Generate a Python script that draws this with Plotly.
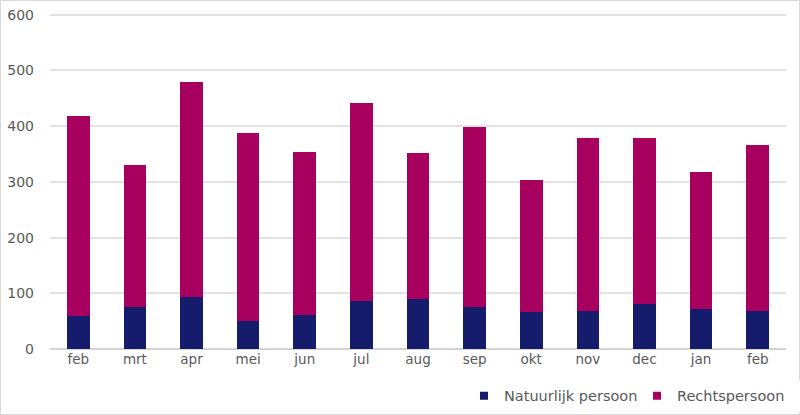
import plotly.graph_objects as go

maanden = ["feb", "mrt", "apr", "mei", "jun", "jul", "aug",
           "sep", "okt", "nov", "dec", "jan", "feb"]
natuurlijk = [60, 75, 94, 50, 61, 86, 90, 75, 67, 69, 81, 71, 69]
rechtspersoon = [359, 255, 385, 338, 293, 356, 262, 323, 237, 310, 298, 247, 297]

BLAUW = "#141c6b"
PAARS = "#a8005e"
TEKST = "#595959"

pos = list(range(len(maanden)))

fig = go.Figure()
fig.add_trace(go.Bar(x=pos, y=natuurlijk, name="Natuurlijk persoon", showlegend=False,
                     marker=dict(color=BLAUW, line=dict(width=0))))
fig.add_trace(go.Bar(x=pos, y=rechtspersoon, name="Rechtspersoon", showlegend=False,
                     marker=dict(color=PAARS, line=dict(width=0))))
# kleine vierkantjes in de legenda, zoals in Excel
for naam, kleur in [("Natuurlijk persoon", BLAUW), ("Rechtspersoon", PAARS)]:
    fig.add_trace(go.Scatter(x=[None], y=[None], mode="markers", name=naam,
                             marker=dict(symbol="square", size=8, color=kleur)))

# plotgebied: 50..786 px breed, 12..349 px hoog
fig.update_layout(
    barmode="stack",
    bargap=0.6,
    width=800, height=415,
    margin=dict(l=50, r=14, t=12, b=66, autoexpand=False),
    paper_bgcolor="white", plot_bgcolor="white",
    font=dict(family="DejaVu Sans, Verdana, sans-serif", color=TEKST, size=14),
    showlegend=True,
    legend=dict(orientation="h", x=1.0 + 24 / 736, xanchor="right", y=-0.139, yanchor="middle",
                font=dict(size=14.5, color=TEKST), traceorder="normal",
                itemwidth=30, entrywidth=128, entrywidthmode="pixels"),
)
fig.update_xaxes(tickvals=pos, ticktext=maanden, range=[-0.5, len(maanden) - 0.5],
                 showgrid=False, showline=False, ticks="", tickfont=dict(size=13.5))
fig.update_yaxes(range=[0, 605], tickvals=[0, 100, 200, 300, 400, 500, 600],
                 showgrid=True, gridcolor="#e3e3e3",
                 gridwidth=1.5, zeroline=True, zerolinecolor="#d4d4d4", zerolinewidth=1.5,
                 showline=False, ticks="", ticklabelstandoff=15, tickfont=dict(size=14))

# dunne rand om de hele afbeelding
fig.add_shape(type="rect", xref="paper", yref="paper",
              x0=(0.5 - 50) / 736, x1=(799.5 - 50) / 736,
              y0=(349 - 414.5) / 337, y1=(349 - 0.5) / 337,
              line=dict(color="#d9d9d9", width=1), fillcolor="rgba(0,0,0,0)")

fig.write_html("out.html", config={"displayModeBar": False},
               post_script="document.body.style.margin='0';document.body.style.overflow='hidden';")
